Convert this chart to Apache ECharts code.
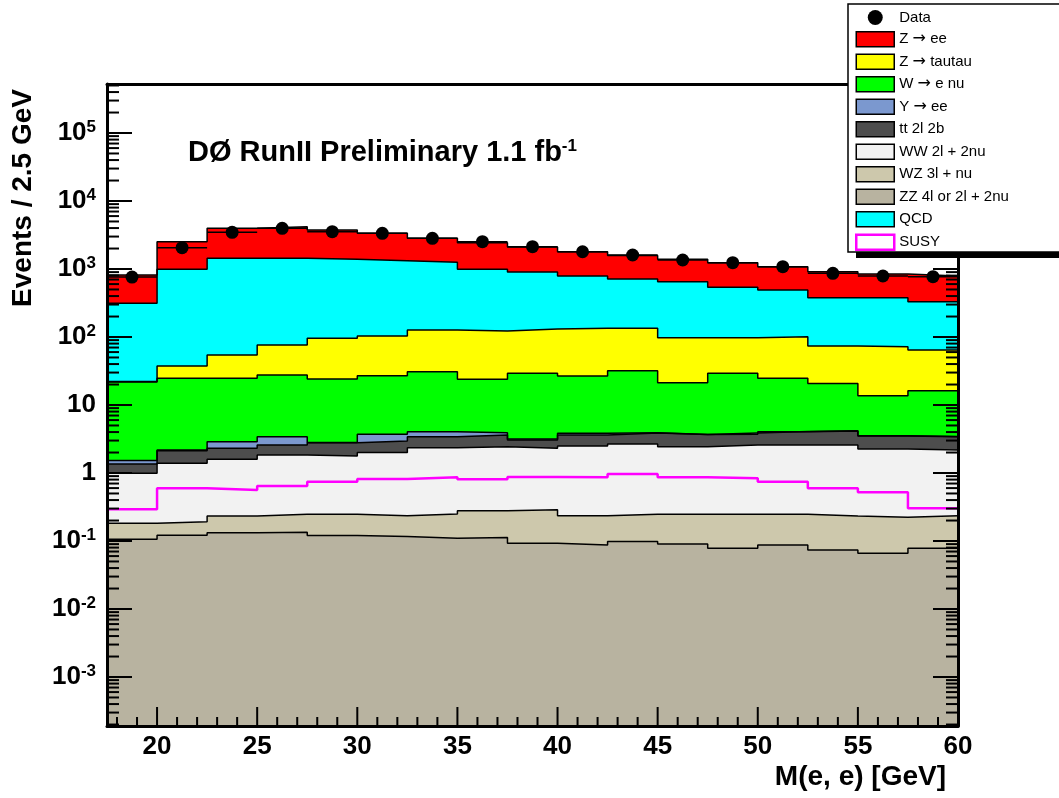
<!DOCTYPE html>
<html>
<head>
<meta charset="utf-8">
<script src="https://cdn.jsdelivr.net/npm/echarts@6.0.0/dist/echarts.min.js"></script>
<style>
html,body{margin:0;padding:0;background:#fff;}
#chart{width:1059px;height:798px;}
</style>
</head>
<body>
<div id="chart"></div>
<script>
// ---------------- data ----------------
const binEdges = [17.5,20,22.5,25,27.5,30,32.5,35,37.5,40,42.5,45,47.5,50,52.5,55,57.5,60];

// per-bin contributions of each background (stacked bottom -> top)
const zz4l   = [0.106,0.122,0.132,0.134,0.120,0.116,0.110,0.113,0.093,0.087,0.098,0.090,0.078,0.087,0.074,0.066,0.078];
const wz3l   = [0.076,0.070,0.101,0.113,0.127,0.120,0.139,0.166,0.194,0.149,0.149,0.157,0.169,0.160,0.159,0.158,0.158];
const ww2l   = [0.81,1.20,1.36,1.59,1.53,1.77,2.11,2.16,2.02,2.25,2.42,2.19,2.33,2.33,2.35,2.03,1.94];
const tt2l   = [0.37,0.74,0.72,0.74,1.01,0.95,1.06,1.18,0.75,1.13,1.20,1.24,1.13,1.47,1.57,1.25,1.24];
const upsEE  = [0.16,0.05,0.57,0.84,0.02,0.75,0.63,0.30,0.10,0.22,0.05,0.02,0.16,0.02,0.02,0.02,0.02];
const wENu   = [20.3,22.5,21.8,24.2,21.3,23.3,26.9,20.0,26.1,22.9,28.0,17.6,25.4,20.6,16.6,10.1,12.8];
const zTauTau= [0.3,12.8,29.6,48.6,71.6,76.5,95.9,98.6,101.7,107.3,102.1,76.4,68.4,76.3,53.0,58.3,48.2];
const qcd    = [291,952,1382,1360,1294,1220,1128,868,772,655,579,552,440,390,304,306,266];
const zEE    = [504,1530,2534,2754,2360,2026,1572,1447,1204,1006,867,740,700,590,534,466,459];

const susy   = [0.292,0.596,0.562,0.644,0.745,0.816,0.865,0.807,0.87,0.865,0.966,0.865,0.836,0.745,0.596,0.520,0.303];
const dataObs= [762,2056,3467,3970,3538,3350,2827,2520,2130,1795,1607,1356,1238,1081,865,789,771];

const xMajorTicks = [20,25,30,35,40,45,50,55,60];
const xMinorTicks = [18,19,21,22,23,24,26,27,28,29,31,32,33,34,36,37,38,39,41,42,43,44,46,47,48,49,51,52,53,54,56,57,58,59];
const yMajorTicks = [1e-3,1e-2,1e-1,1,10,100,1e3,1e4,1e5];
const yMinorMantissas = [2,3,4,5,6,7,8,9];
const xMin = 17.5, xMax = 60;
const yMin = 1.903e-4, yMax = 5.256e5;

// ---------------- helpers ----------------
const FONT = "'Liberation Sans', Arial, Helvetica, sans-serif";
function stepData(vals){
  const d = vals.map((v,i)=>[binEdges[i], v]);
  d.push([binEdges[binEdges.length-1], vals[vals.length-1]]);
  return d;
}
const layers = [
  {name:'ZZ 4l or 2l + 2nu', vals:zz4l,    color:'#b8b3a0'},
  {name:'WZ 3l + nu',        vals:wz3l,    color:'#cdc8ac'},
  {name:'WW 2l + 2nu',       vals:ww2l,    color:'#f2f2f2'},
  {name:'tt 2l 2b',          vals:tt2l,    color:'#4d4d4d'},
  {name:'Y → ee',            vals:upsEE,   color:'#7b98cf'},
  {name:'W → e nu',          vals:wENu,    color:'#00ff00'},
  {name:'Z → tautau',        vals:zTauTau, color:'#ffff00'},
  {name:'QCD',               vals:qcd,     color:'#00ffff'},
  {name:'Z → ee',            vals:zEE,     color:'#ff0000'}
];
let running = new Array(zz4l.length).fill(0);
layers.forEach(l => { running = running.map((r,i)=>r + l.vals[i]); l.cum = running.slice(); });

const histSeries = layers.slice().reverse().map(l => ({
  name: l.name, type:'line', step:'end', data: stepData(l.cum),
  symbol:'none', showSymbol:false, silent:true, z:2,
  lineStyle:{color:'#000', width:1.5},
  itemStyle:{color:l.color},
  areaStyle:{color:l.color, opacity:1, origin:'start'}
}));

// tick marks
const tickData = [];
yMajorTicks.forEach(v => { tickData.push([xMin, v, 0]); tickData.push([xMax, v, 2]); });
for (let k=-4;k<=5;k++){
  yMinorMantissas.forEach(m => {
    const v = m*Math.pow(10,k);
    if (v>yMin && v<yMax){ tickData.push([xMin, v, 1]); tickData.push([xMax, v, 3]); }
  });
}
xMajorTicks.forEach(x => tickData.push([x, yMin, 4]));
xMinorTicks.forEach(x => tickData.push([x, yMin, 5]));

const dataPts = dataObs.map((v,i)=>[(binEdges[i]+binEdges[i+1])/2, v, binEdges[i], binEdges[i+1]]);

function yLabel(v){
  const lg = Math.log10(v);
  const k = Math.round(lg);
  if (Math.abs(lg-k) > 1e-6) return '';
  if (k===0) return '{b|1}';
  if (k===1) return '{b|10}';
  return '{b|10}{s|' + k + '}';
}

const chart = echarts.init(document.getElementById('chart'), null, {renderer:'canvas'});
chart.setOption({
  animation:false,
  backgroundColor:'#fff',
  grid:{left:107, top:84, width:851, height:642, outerBoundsMode:'none', containLabel:false},
  xAxis:[
    {type:'value', min:xMin, max:xMax, splitNumber:10, position:'bottom', z:10,
     axisLine:{show:true, onZero:false, lineStyle:{color:'#000', width:3}},
     axisTick:{show:false}, splitLine:{show:false}, minorTick:{show:false},
     axisLabel:{show:true, margin:8, color:'#000', fontSize:26, fontWeight:'bold', fontFamily:FONT,
       formatter: v => (Math.abs(v/5 - Math.round(v/5))<1e-9 ? String(v) : '')}},
    {type:'value', min:xMin, max:xMax, position:'top', z:10,
     axisLine:{show:true, onZero:false, lineStyle:{color:'#000', width:3}},
     axisTick:{show:false}, splitLine:{show:false}, axisLabel:{show:false}}
  ],
  yAxis:[
    {type:'log', logBase:10, min:yMin, max:yMax, position:'left', z:10,
     axisLine:{show:true, onZero:false, lineStyle:{color:'#000', width:3}},
     axisTick:{show:false}, splitLine:{show:false}, minorTick:{show:false},
     axisLabel:{show:true, margin:11, formatter:yLabel,
       rich:{
         b:{fontSize:26, fontWeight:'bold', fontFamily:FONT, color:'#000', lineHeight:28},
         s:{fontSize:17, fontWeight:'bold', fontFamily:FONT, color:'#000', verticalAlign:'top', lineHeight:17}
       }}},
    {type:'log', logBase:10, min:yMin, max:yMax, position:'right', z:10,
     axisLine:{show:true, onZero:false, lineStyle:{color:'#000', width:3}},
     axisTick:{show:false}, splitLine:{show:false}, axisLabel:{show:false}}
  ],
  legend:{
    orient:'vertical', left:855, top:10, padding:0, itemGap:6, itemWidth:38, itemHeight:15,
    selectedMode:false, z:60,
    formatter: name => '{t|' + name.replace('→', '}{a|→}{t|') + '}',
    textStyle:{fontSize:15, fontFamily:FONT, color:'#000', lineHeight:15,
      rich:{
        t:{fontSize:15, fontFamily:FONT, color:'#000', lineHeight:15},
        a:{fontSize:16, fontFamily:"'DejaVu Sans', sans-serif", color:'#000', lineHeight:15}
      }},
    data:[
      {name:'Data', icon:'circle', itemStyle:{color:'#000', borderWidth:0}},
      {name:'Z → ee', icon:'rect', itemStyle:{color:'#ff0000', borderColor:'#000', borderWidth:1.5}},
      {name:'Z → tautau', icon:'rect', itemStyle:{color:'#ffff00', borderColor:'#000', borderWidth:1.5}},
      {name:'W → e nu', icon:'rect', itemStyle:{color:'#00ff00', borderColor:'#000', borderWidth:1.5}},
      {name:'Y → ee', icon:'rect', itemStyle:{color:'#7b98cf', borderColor:'#000', borderWidth:1.5}},
      {name:'tt 2l 2b', icon:'rect', itemStyle:{color:'#4d4d4d', borderColor:'#000', borderWidth:1.5}},
      {name:'WW 2l + 2nu', icon:'rect', itemStyle:{color:'#f2f2f2', borderColor:'#000', borderWidth:1.5}},
      {name:'WZ 3l + nu', icon:'rect', itemStyle:{color:'#cdc8ac', borderColor:'#000', borderWidth:1.5}},
      {name:'ZZ 4l or 2l + 2nu', icon:'rect', itemStyle:{color:'#b8b3a0', borderColor:'#000', borderWidth:1.5}},
      {name:'QCD', icon:'rect', itemStyle:{color:'#00ffff', borderColor:'#000', borderWidth:1.5}},
      {name:'SUSY', icon:'rect', itemStyle:{color:'#ffffff', borderColor:'#ff00ff', borderWidth:2.5}}
    ]
  },
  graphic:[
    {type:'rect', z:50, shape:{x:856, y:12, width:300, height:246}, style:{fill:'#000'}},
    {type:'rect', z:51, shape:{x:848, y:4, width:300, height:248}, style:{fill:'#fff', stroke:'#000', lineWidth:1.5}},
    {type:'text', z:52, x:188, y:153, style:{
      text:'{t|DØ RunII Preliminary 1.1 fb}{s|-1}', textVerticalAlign:'middle', textAlign:'left',
      rich:{
        t:{fontSize:29, fontWeight:'bold', fontFamily:FONT, fill:'#000', lineHeight:31},
        s:{fontSize:17, fontWeight:'bold', fontFamily:FONT, fill:'#000', verticalAlign:'top', lineHeight:17}
      }}},
    {type:'text', z:52, x:23, y:89, rotation:Math.PI/2, style:{
      text:'Events / 2.5 GeV', fontSize:28, fontWeight:'bold', fontFamily:FONT, fill:'#000',
      textAlign:'right', textVerticalAlign:'middle'}},
    {type:'text', z:52, x:946, y:777, style:{
      text:'M(e, e) [GeV]', fontSize:28, fontWeight:'bold', fontFamily:FONT, fill:'#000',
      textAlign:'right', textVerticalAlign:'middle'}}
  ],
  series: histSeries.concat([
    {name:'SUSY', type:'line', step:'end', data:stepData(susy), symbol:'none', showSymbol:false, silent:true, z:3,
     itemStyle:{color:'#ff00ff'}, lineStyle:{color:'#ff00ff', width:2.5}},
    {name:'Data', type:'custom', z:4, silent:true, data:dataPts, itemStyle:{color:'#000'},
     renderItem:(params, api) => {
       const c = api.coord([api.value(0), api.value(1)]);
       const l = api.coord([api.value(2), api.value(1)]);
       const r = api.coord([api.value(3), api.value(1)]);
       return {type:'group', children:[
         {type:'line', shape:{x1:l[0], y1:l[1], x2:r[0], y2:r[1]}, style:{stroke:'#000', lineWidth:1.5}},
         {type:'circle', shape:{cx:c[0], cy:c[1], r:6.5}, style:{fill:'#000'}}
       ]};
     }},
    {name:'ticks', type:'custom', z:10, silent:true, data:tickData,
     renderItem:(params, api) => {
       const kind = api.value(2);
       const p = api.coord([api.value(0), api.value(1)]);
       const L = {0:25, 1:12, 2:25, 3:12, 4:19, 5:9}[kind];
       let s;
       if (kind===0 || kind===1) s = {x1:p[0], y1:p[1], x2:p[0]+L, y2:p[1]};
       else if (kind===2 || kind===3) s = {x1:p[0], y1:p[1], x2:p[0]-L, y2:p[1]};
       else s = {x1:p[0], y1:p[1], x2:p[0], y2:p[1]-L};
       return {type:'line', shape:s, style:{stroke:'#000', lineWidth:2}};
     }}
  ])
});
</script>
</body>
</html>
